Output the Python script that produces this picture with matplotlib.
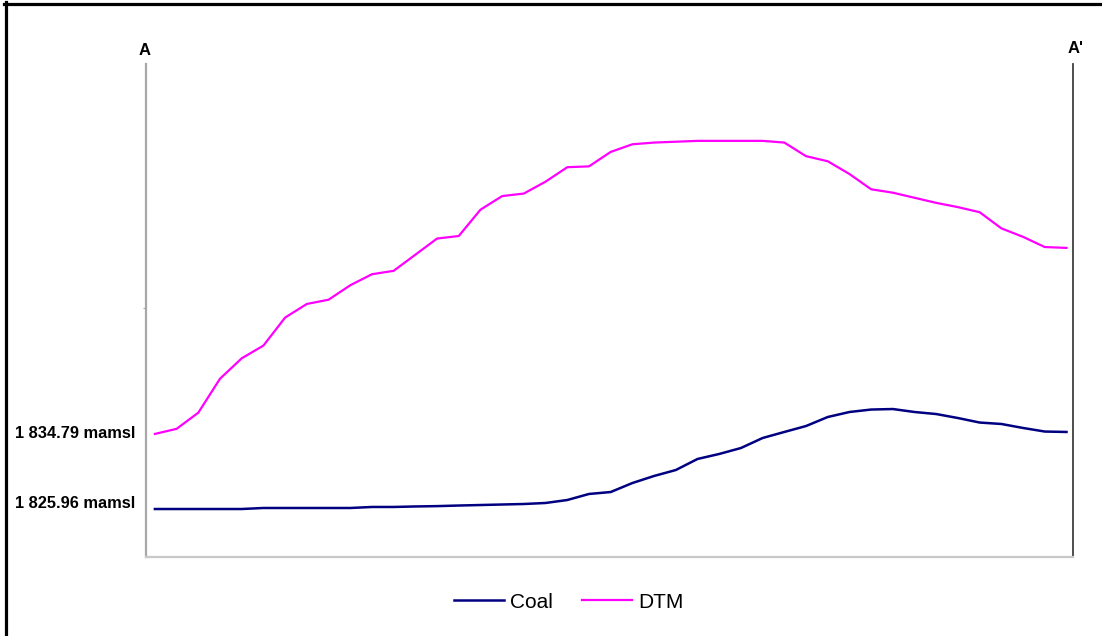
import matplotlib
matplotlib.use("Agg")
import matplotlib.pyplot as plt
from matplotlib.lines import Line2D
import numpy as np

# profile stations along A - A' (equally spaced)
stations = list(range(43))

# surface elevation (DTM), metres above mean sea level
dtm = [1834.8, 1835.4, 1837.3, 1841.3, 1843.7, 1845.2, 1848.5, 1850.1, 1850.6,
       1852.3, 1853.6, 1854.0, 1855.9, 1857.8, 1858.1, 1861.2, 1862.8, 1863.1,
       1864.5, 1866.2, 1866.3, 1868.0, 1868.9, 1869.1, 1869.2, 1869.3, 1869.3,
       1869.3, 1869.3, 1869.1, 1867.5, 1866.9, 1865.4, 1863.6, 1863.2, 1862.6,
       1862.0, 1861.5, 1860.9, 1859.0, 1858.0, 1856.8, 1856.7]

# coal seam floor elevation
coal = [1825.96, 1825.96, 1825.96, 1825.96, 1825.96, 1826.08, 1826.08, 1826.08,
        1826.08, 1826.08, 1826.2, 1826.2, 1826.26, 1826.3, 1826.37, 1826.43,
        1826.49, 1826.55, 1826.67, 1827.02, 1827.73, 1827.96, 1829.02, 1829.85,
        1830.55, 1831.85, 1832.44, 1833.14, 1834.32, 1835.03, 1835.73, 1836.79,
        1837.38, 1837.67, 1837.73, 1837.38, 1837.14, 1836.67, 1836.14, 1835.97,
        1835.5, 1835.08, 1835.03]

label_levels = [1834.79, 1825.96]
label_texts = ["1 834.79 mamsl", "1 825.96 mamsl"]

fig = plt.figure(figsize=(11.02, 6.36), dpi=100)
ax = fig.add_axes([146/1102, 1 - 557/636, (1073-146)/1102, (557-64)/636])

ax.plot(stations, coal, color="#000080", lw=1.8, label="Coal")
ax.plot(stations, dtm, color="#ff00ff", lw=1.6, label="DTM")

ax.set_xlim(-0.41, 42.3)
ax.set_ylim(1820.31, 1878.35)

# spines like the original export
ax.spines["top"].set_visible(False)
ax.spines["left"].set_color("#a8a8a8")
ax.spines["left"].set_linewidth(1.6)
ax.spines["bottom"].set_color("#c8c8c8")
ax.spines["bottom"].set_linewidth(1.6)
ax.spines["right"].set_color("#404040")
ax.spines["right"].set_linewidth(1.3)
ax.set_xticks([])
ax.set_yticks([1849.6])
ax.set_yticklabels([])
ax.tick_params(axis="y", length=2, color="#a8a8a8", direction="out")

# section end labels
ax.text(-0.001, 1.028, "A", transform=ax.transAxes, ha="center", va="center",
        fontsize=12, fontweight="bold", family="Liberation Sans")
ax.text(1.003, 1.031, "A'", transform=ax.transAxes, ha="center", va="center",
        fontsize=12, fontweight="bold", family="Liberation Sans")

# elevation labels at the start of each line (slightly above the coal start)
to_fig = fig.transFigure.inverted()
for lev, txt, dy in zip(label_levels, label_texts, [1, 6]):
    ypix = ax.transData.transform((0, lev))[1] + dy
    yfrac = to_fig.transform((0, ypix))[1]
    fig.text(15/1102, yfrac, txt, ha="left", va="center", fontsize=11.8,
             fontweight="bold", family="Liberation Sans")

leg = fig.legend(loc="center", bbox_to_anchor=(569/1102, 1 - 602/636), ncol=2,
                 frameon=False, handlelength=2.4, handletextpad=0.3,
                 columnspacing=1.4, prop={"family": "Liberation Sans", "size": 15})

# black frame (left and top) from the source figure
fig.add_artist(Line2D([5.5/1102, 5.5/1102], [0, 1 - 2/636], transform=fig.transFigure,
                      color="black", lw=2.3))
fig.add_artist(Line2D([4/1102, 1], [1 - 3.5/636, 1 - 3.5/636], transform=fig.transFigure,
                      color="black", lw=2.3))

fig.savefig("out.png", dpi=100)
